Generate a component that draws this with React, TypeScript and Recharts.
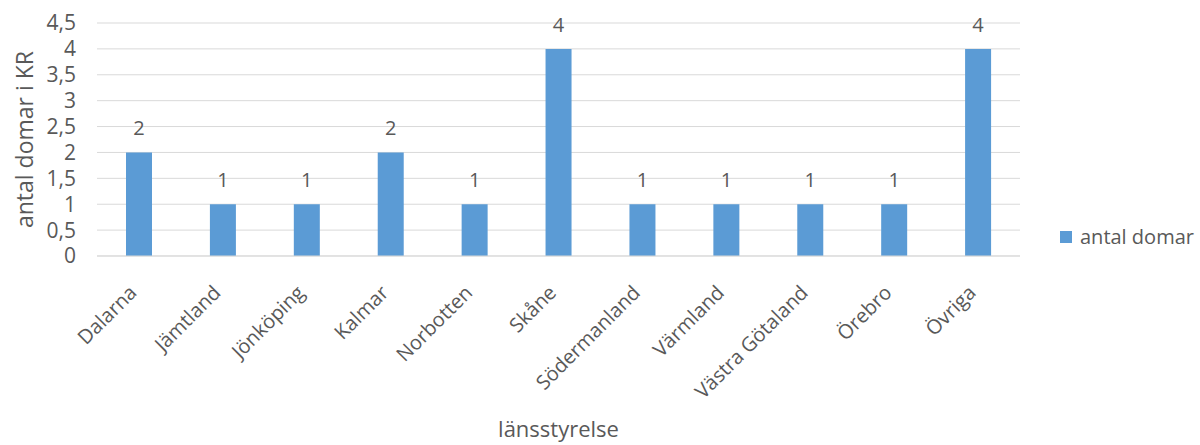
import { BarChart, Bar, XAxis, YAxis, CartesianGrid, Legend, LabelList } from 'recharts';

const categories = ['Dalarna', 'Jämtland', 'Jönköping', 'Kalmar', 'Norbotten', 'Skåne', 'Södermanland', 'Värmland', 'Västra Götaland', 'Örebro', 'Övriga'];
const domar = [2, 1, 1, 2, 1, 4, 1, 1, 1, 1, 4];
const yTicks = [0, 0.5, 1, 1.5, 2, 2.5, 3, 3.5, 4, 4.5];

const data = categories.map((name, i) => ({ name, domar: domar[i] }));

const FONT = '"Open Sans", "Noto Sans", sans-serif';
const TEXT = '#595959';
const BLUE = '#5b9bd5';

function XTick(props: any) {
  const { x, y, payload } = props;
  const ax = x - 1;
  const ay = y + 30;
  return (
    <text
      x={ax}
      y={ay}
      transform={`rotate(-45, ${ax}, ${ay})`}
      textAnchor="end"
      fill={TEXT}
      fontSize={20}
      fontFamily={FONT}
    >
      {payload.value}
    </text>
  );
}

function YTitle(props: any) {
  const vb = props.viewBox || {};
  const cx = 24;
  const cy = (vb.y ?? 23) + (vb.height ?? 233) / 2;
  return (
    <text
      x={cx}
      y={cy}
      transform={`rotate(-90, ${cx}, ${cy})`}
      textAnchor="middle"
      dominantBaseline="central"
      fill={TEXT}
      fontSize={23}
      fontFamily={FONT}
    >
      antal domar i KR
    </text>
  );
}

function LegendBox() {
  return (
    <div style={{ display: 'flex', alignItems: 'center', fontFamily: FONT, fontSize: 20, color: TEXT, whiteSpace: 'nowrap' }}>
      <span style={{ display: 'inline-block', width: 12, height: 12, background: BLUE, marginRight: 8 }} />
      <span>antal domar</span>
    </div>
  );
}

export default function App() {
  return (
    <div style={{ position: 'absolute', left: 0, top: 0, width: 1200, height: 445, background: '#fff' }}>
      <BarChart width={1200} height={445} data={data} margin={{ top: 23, right: 40, bottom: 0, left: 0 }}>
        <CartesianGrid vertical={false} stroke="#d9d9d9" />
        <XAxis
          dataKey="name"
          tick={<XTick />}
          tickLine={false}
          axisLine={{ stroke: '#d9d9d9' }}
          interval={0}
          height={189}
          label={{ value: 'länsstyrelse', position: 'insideBottom', offset: 8, fill: TEXT, fontSize: 22, fontFamily: FONT }}
        />
        <YAxis
          domain={[0, 4.5]}
          ticks={yTicks}
          interval={0}
          width={97}
          tickLine={false}
          axisLine={false}
          tick={{ fill: TEXT, fontSize: 21, fontFamily: FONT, dx: -13 }}
          tickFormatter={(v: number) => String(v).replace('.', ',')}
          label={<YTitle />}
        />
        <Legend
          layout="horizontal"
          align="right"
          verticalAlign="middle"
          content={<LegendBox />}
          wrapperStyle={{ top: 223, left: 1060, width: 140 }}
        />
        <Bar dataKey="domar" name="antal domar" fill={BLUE} barSize={26} isAnimationActive={false}>
          <LabelList dataKey="domar" position="top" offset={17} fill={TEXT} fontSize={20} fontFamily={FONT} />
        </Bar>
      </BarChart>
    </div>
  );
}
